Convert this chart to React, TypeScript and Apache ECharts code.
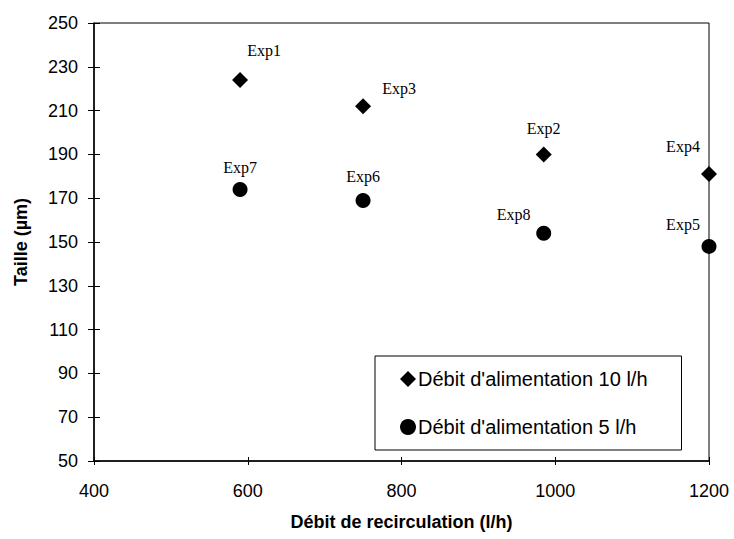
import React, { useEffect, useRef } from "react";
import * as echarts from "echarts";

const recirc10 = [590, 750, 985, 1200];
const taille10 = [224, 212, 190, 181];
const names10 = ["Exp1", "Exp3", "Exp2", "Exp4"];

const recirc5 = [590, 750, 985, 1200];
const taille5 = [174, 169, 154, 148];
const names5 = ["Exp7", "Exp6", "Exp8", "Exp5"];

const labelOffsets10 = [[24, -8], [36, 3], [0, -5], [-26, -7]];
const labelOffsets5 = [[0, -1], [0, -3], [-30, 2], [-26, -1]];

const seriesNames = ["Débit d'alimentation 10 l/h", "Débit d'alimentation 5 l/h"];

export default function App() {
  const ref = useRef<HTMLDivElement>(null);
  useEffect(() => {
    if (!ref.current) return;
    const chart = echarts.init(ref.current, null, { renderer: "svg" });
    const mk = (xs: number[], ys: number[], names: string[], offs: number[][]) =>
      xs.map((x, i) => ({
        value: [x, ys[i]],
        name: names[i],
        label: { offset: offs[i] },
      }));
    const sans = "'Liberation Sans', Arial, sans-serif";
    const labelStyle = {
      show: true,
      position: "top",
      distance: 5,
      formatter: (p: any) => p.name,
      fontFamily: "'Liberation Serif', 'Times New Roman', serif",
      fontSize: 16,
      color: "#000",
      opacity: 1,
    };
    chart.setOption({
      animation: false,
      backgroundColor: "#fff",
      grid: {
        left: 94,
        top: 23,
        right: 25,
        bottom: 78,
        show: true,
        borderColor: "#000",
        borderWidth: 1,
        backgroundColor: "transparent",
      },
      legend: {
        left: 375,
        top: 356,
        orient: "vertical",
        data: [
          { name: seriesNames[0], icon: "diamond", itemStyle: { opacity: 1 } },
          { name: seriesNames[1], icon: "circle", itemStyle: { opacity: 1 } },
        ],
        itemWidth: 16,
        itemHeight: 16,
        itemGap: 28,
        padding: [13, 34, 13, 25],
        borderColor: "#000",
        borderWidth: 1,
        backgroundColor: "#fff",
        textStyle: { fontFamily: sans, fontSize: 20, color: "#000", padding: [0, 0, 0, -3] },
      },
      xAxis: [
        {
          type: "value",
          min: 400,
          max: 1200,
          interval: 200,
          name: "Débit de recirculation (l/h)",
          nameLocation: "middle",
          nameGap: 52,
          nameTextStyle: { fontFamily: sans, fontSize: 18, fontWeight: "bold", color: "#000" },
          axisLine: { show: true, lineStyle: { color: "#000", width: 1.5 } },
          axisTick: { show: true, length: 4, lineStyle: { color: "#000" } },
          axisLabel: {
            margin: 21,
            fontFamily: sans,
            fontSize: 18,
            color: "#000",
            formatter: (v: number) => String(v),
          },
          splitLine: { show: false },
        },
        {
          type: "value",
          min: 400,
          max: 1200,
          interval: 200,
          position: "bottom",
          axisLine: { show: false },
          axisTick: { show: true, inside: true, length: 4, lineStyle: { color: "#000" } },
          axisLabel: { show: false },
          splitLine: { show: false },
        },
      ],
      yAxis: [
        {
          type: "value",
          min: 50,
          max: 250,
          interval: 20,
          name: "Taille (µm)",
          nameLocation: "middle",
          nameGap: 64,
          nameTextStyle: { fontFamily: sans, fontSize: 18, fontWeight: "bold", color: "#000" },
          axisLine: { show: true, lineStyle: { color: "#000", width: 1.5 } },
          axisTick: { show: true, length: 6, lineStyle: { color: "#000" } },
          axisLabel: {
            margin: 16,
            fontFamily: sans,
            fontSize: 18,
            color: "#000",
            formatter: (v: number) => String(v),
          },
          splitLine: { show: false },
        },
        {
          type: "value",
          min: 50,
          max: 250,
          interval: 20,
          position: "left",
          axisLine: { show: false },
          axisTick: { show: true, inside: true, length: 6, lineStyle: { color: "#000" } },
          axisLabel: { show: false },
          splitLine: { show: false },
        },
      ],
      series: [
        {
          name: seriesNames[0],
          type: "scatter",
          symbol: "diamond",
          symbolSize: 16,
          clip: false,
          itemStyle: { color: "#000", opacity: 1 },
          label: labelStyle,
          data: mk(recirc10, taille10, names10, labelOffsets10),
        },
        {
          name: seriesNames[1],
          type: "scatter",
          symbol: "circle",
          symbolSize: 15,
          clip: false,
          itemStyle: { color: "#000", opacity: 1 },
          label: labelStyle,
          data: mk(recirc5, taille5, names5, labelOffsets5),
        },
      ],
    });
    return () => chart.dispose();
  }, []);
  return (
    <div
      ref={ref}
      style={{ position: "fixed", left: 0, top: 0, width: 734, height: 539 }}
    />
  );
}
